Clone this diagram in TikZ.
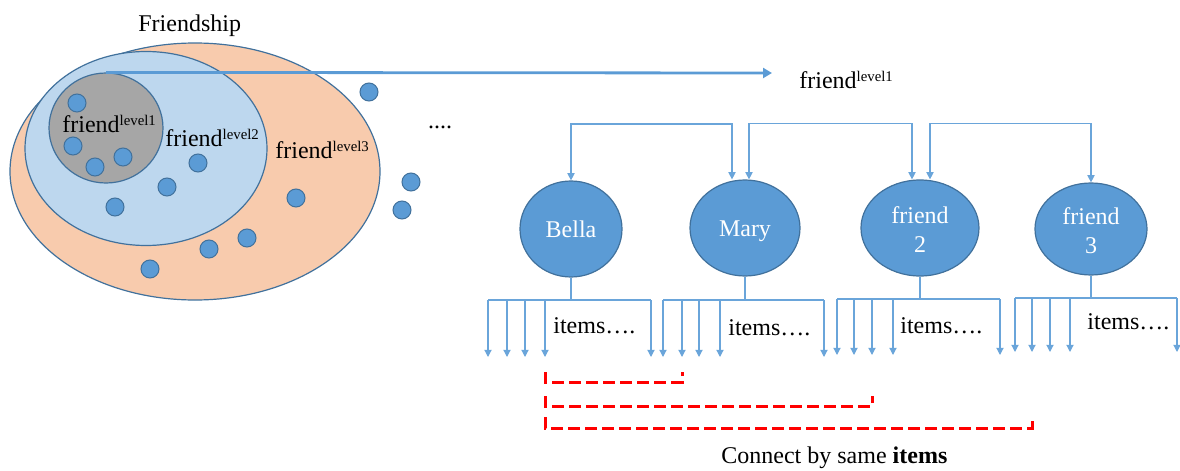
\documentclass[tikz,border=0pt]{standalone}
\usepackage{fontspec}
\setmainfont{Liberation Serif}
\usetikzlibrary{shapes.geometric,arrows.meta,calc}

\definecolor{peach}{HTML}{F8CBAD}
\definecolor{paleblue}{HTML}{BDD7EE}
\definecolor{midgray}{HTML}{A6A6A6}
\definecolor{outline}{HTML}{41719C}
\definecolor{accent}{HTML}{5B9BD5}
\definecolor{linkblue}{HTML}{6AA5DA}

% raised, reduced level tag after "friend"
\newcommand\lvltag[1]{\raisebox{3.5pt}{\fontsize{7.4}{8}\selectfont #1}}

\begin{document}
\begin{tikzpicture}[x=0.5pt,y=-0.5pt,
  txt/.style={font=\fontsize{12}{14}\selectfont, inner sep=0pt},
  region/.style={ellipse, draw=outline, line width=0.6pt, inner sep=0pt},
  dot/.style={circle, fill=accent, draw=outline, line width=0.5pt,
    minimum size=9pt, inner sep=0pt},
  person/.style={ellipse, fill=accent, draw=outline, line width=0.6pt,
    inner sep=0pt, text=white, align=center,
    font=\fontsize{12}{14.5}\selectfont, text height=8.5pt, text depth=0.5pt},
  twoline/.style={text height=24.5pt},
  tline/.style={draw=linkblue, line width=0.6pt},
  tarrow/.style={tline, -{Triangle[width=3.6pt,length=3.6pt]}},
  tboth/.style={tline, {Triangle[width=3.6pt,length=3.6pt]}-{Triangle[width=3.6pt,length=3.6pt]}},
  bigarrow/.style={draw=accent, line width=1.4pt, -{Triangle[width=5pt,length=4.5pt]}},
  redlink/.style={draw=red, line width=1.5pt, dash pattern=on 6pt off 2.5pt}
]
\useasboundingbox (0,0) rectangle (1180,471);

% nested friendship regions
\node[region, fill=peach, minimum width=185pt, minimum height=128.5pt] (outer) at (195,171.5) {};
\node[region, fill=paleblue, minimum width=121pt, minimum height=97pt] (middle) at (146,148.5) {};
\node[region, fill=midgray, minimum width=57pt, minimum height=55pt] (inner) at (106,128) {};

\node[txt, anchor=base west] (title) at (138,32) {Friendship};

% individual friends
\foreach \n/\x/\y in {1/77/103, 2/73/146, 3/95/167, 4/123/157, 5/198/163,
  6/167/187, 7/115/207, 8/296/198, 9/247/238, 10/209/249, 11/150/269,
  12/369/92, 13/411/182, 14/402/210}
  \node[dot] (d\n) at (\x,\y) {};

\node[txt, anchor=base west] (l1) at (62,132) {friend\lvltag{level1}};
\node[txt, anchor=base west] (l2) at (165,146) {friend\lvltag{level2}};
\node[txt, anchor=base west] (l3) at (275,158) {friend\lvltag{level3}};
\node[txt, anchor=base] (more) at (440,128) {....};

% first-level friends pulled out
\coordinate (arrowtip) at (772,73);
\draw[bigarrow] (inner.north) -- (arrowtip);
\node[txt, anchor=base west] (lvl) at (799,88) {friend\lvltag{level1}};

\node[person, minimum width=51pt, minimum height=48pt] (bella) at (571,229) {Bella};
\node[person, minimum width=55pt, minimum height=48pt] (mary) at (745,228) {Mary};
\node[person, twoline, minimum width=59pt, minimum height=48pt] (ftwo) at (920,228) {friend\\2};
\node[person, twoline, minimum width=56pt, minimum height=46pt] (fthree) at (1091,229) {friend\\3};

% friendship links between neighbours
\draw[tboth] (bella.north) -- (bella.north |- 0,124) -| ($(mary.north)+(-13,0)$);
\draw[tboth] ($(mary.north)+(4,0)$) -- ++(0,-56) -| ($(ftwo.north)+(-8,0)$);
\draw[tboth] ($(ftwo.north)+(10,0)$) -- ++(0,-56) -| (fthree.north);

% items owned by each person
\foreach \p/\by/\ty/\xa/\xb/\xc/\xd/\xe in {
  bella/300/357/488/507/525/545/651,
  mary/300/357/663/682/699/720/824,
  ftwo/299/355/837/854/872/893/1000,
  fthree/298/352/1015/1032/1050/1070/1177} {
  \draw[tline] (\p.south) -- (\p.south |- 0,\by);
  \draw[tline] (\xa,\by) -- (\xe,\by);
  \foreach \k/\xx in {1/\xa,2/\xb,3/\xc,4/\xd,5/\xe} {
    \coordinate (\p-\k) at (\xx,\ty);
    \draw[tarrow] (\xx,\by) -- (\p-\k);
  }
}
\node[txt, anchor=base west] (ib) at (553,333) {items….};
\node[txt, anchor=base west] (im) at (728,335) {items….};
\node[txt, anchor=base west] (i2) at (900,333) {items….};
\node[txt, anchor=base west] (i3) at (1087,329) {items….};

% shared items
\draw[redlink] ($(bella-4)+(0,15)$) -- ($(bella-4)+(0,25)$) -| ($(mary-2)+(0,15)$);
\draw[redlink] ($(bella-4)+(0,39)$) -- ($(bella-4)+(0,49)$) -| ($(ftwo-3)+(0,41)$);
\draw[redlink] ($(bella-4)+(0,60)$) -- ($(bella-4)+(0,71)$) -| ($(fthree-2)+(0,65)$);

\node[txt, anchor=base west] (caption) at (721,463) {Connect by same \textbf{items}};
\end{tikzpicture}
\end{document}
